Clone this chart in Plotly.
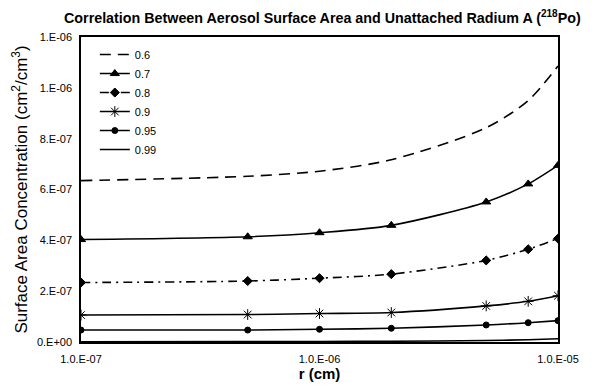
import plotly.graph_objects as go

r_cm = [1e-7, 5e-7, 1e-6, 2e-6, 5e-6, 7.5e-6, 1e-5]
series_names = ["0.6", "0.7", "0.8", "0.9", "0.95", "0.99"]
s06 = [6.35e-7, 6.52e-7, 6.72e-7, 7.17e-7, 8.43e-7, 9.5e-7, 1.086e-6]
s07 = [4.03e-7, 4.14e-7, 4.30e-7, 4.59e-7, 5.51e-7, 6.22e-7, 6.95e-7]
s08 = [2.34e-7, 2.40e-7, 2.51e-7, 2.67e-7, 3.21e-7, 3.65e-7, 4.07e-7]
s09 = [1.06e-7, 1.08e-7, 1.12e-7, 1.16e-7, 1.42e-7, 1.60e-7, 1.82e-7]
s095 = [4.7e-8, 4.7e-8, 5.0e-8, 5.4e-8, 6.7e-8, 7.6e-8, 8.4e-8]
s099 = [1.0e-9, 1.5e-9, 2.0e-9, 3.0e-9, 6.0e-9, 9.0e-9, 1.3e-8]

x_tickvals = [1e-7, 1e-6, 1e-5]
x_ticktext = ["1.0.E-07", "1.0.E-06", "1.0.E-05"]
y_tickvals = [0, 2e-7, 4e-7, 6e-7, 8e-7, 1.0e-6, 1.2e-6]
y_ticktext = ["0.E+00", "2.E-07", "4.E-07", "6.E-07", "8.E-07", "1.E-06", "1.E-06"]

all_series = [s06, s07, s08, s09, s095, s099]
styles = [
    dict(dash="11px,7px", symbol=None, size=0),
    dict(dash="solid", symbol="triangle-up", size=8),
    dict(dash="9px,5px,2px,5px", symbol="diamond", size=7),
    dict(dash="solid", symbol="asterisk-open", size=9),
    dict(dash="solid", symbol="circle", size=6),
    dict(dash="solid", symbol=None, size=0),
]

fig = go.Figure()
for name, ys, st in zip(series_names, all_series, styles):
    kw = {}
    if st["symbol"]:
        mode = "lines+markers"
        kw["marker"] = dict(symbol=st["symbol"], size=st["size"],
                            color="black", line=dict(color="black", width=1))
    else:
        mode = "lines"
    fig.add_trace(go.Scatter(
        x=r_cm, y=ys, name=name, mode=mode,
        line=dict(color="black", width=1.6, dash=st["dash"], shape="spline", smoothing=0.8),
        **kw))

font = "Liberation Sans, Arial, sans-serif"
# page body has an 8px default margin, so the figure is sized to fit inside the window
fig.update_layout(
    width=592, height=379,
    margin=dict(l=69, r=42, t=29, b=44),
    paper_bgcolor="white", plot_bgcolor="white",
    font=dict(family=font, color="black", size=11),
    title=dict(text="<b>Correlation Between Aerosol Surface Area and Unattached Radium A (<sup>218</sup>Po)</b>",
               x=0.531, xref="container", xanchor="center", y=0.974, yanchor="middle",
               font=dict(size=14.3)),
    xaxis=dict(type="log", range=[-7, -5], tickvals=x_tickvals, ticktext=x_ticktext,
               showgrid=False, showline=True, linecolor="black", linewidth=1.5, mirror=True,
               ticks="", zeroline=False, ticklabelstandoff=6, tickfont=dict(size=11),
               title=dict(text="<b>r (cm)</b>", font=dict(size=15), standoff=0)),
    yaxis=dict(range=[0, 1.2e-6], tickvals=y_tickvals, ticktext=y_ticktext,
               showgrid=False, showline=True, linecolor="black", linewidth=1.5, mirror=True,
               ticks="", zeroline=False, ticklabelstandoff=5, tickfont=dict(size=11),
               title=dict(text="Surface Area Concentration (cm<sup>2</sup>/cm<sup>3</sup>)",
                          font=dict(size=17), standoff=5)),
    legend=dict(x=0.029, y=0.99, xanchor="left", yanchor="top", bgcolor="rgba(0,0,0,0)",
                font=dict(size=11), tracegroupgap=0, itemwidth=30),
    showlegend=True,
)
fig.write_html("out.html")
